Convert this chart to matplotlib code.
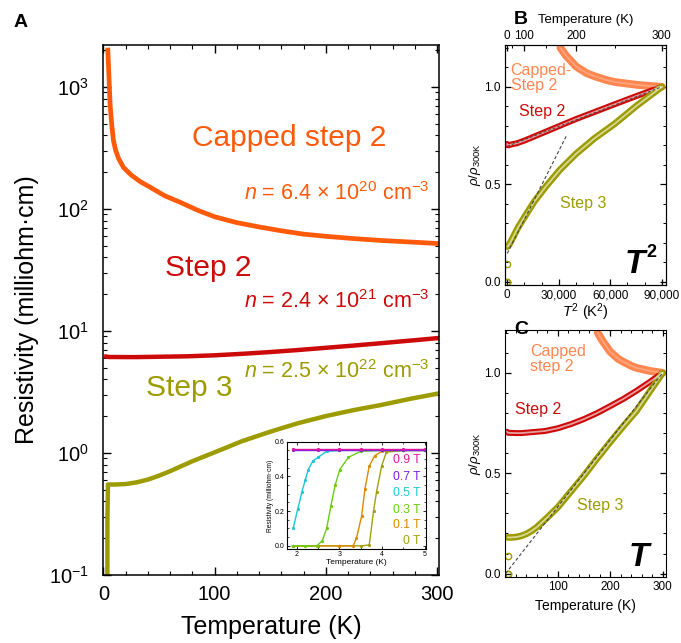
import numpy as np
import matplotlib
matplotlib.use("Agg")
import matplotlib.pyplot as plt
from matplotlib.ticker import MultipleLocator, FixedLocator, LogLocator, NullFormatter, StrMethodFormatter

plt.rcParams['font.family'] = ['Liberation Sans', 'DejaVu Sans']
plt.rcParams['mathtext.fontset'] = 'custom'
plt.rcParams['mathtext.rm'] = 'Liberation Sans'
plt.rcParams['mathtext.it'] = 'Liberation Sans:italic'
plt.rcParams['mathtext.bf'] = 'Liberation Sans:bold'
plt.rcParams['xtick.direction'] = 'in'
plt.rcParams['ytick.direction'] = 'in'

# --- panel A data (resistivity, milliohm cm) ---
T_capped = [3.9, 5, 6, 7.5, 9, 11, 13.6, 18, 25, 33, 41, 55, 70, 85, 100, 120, 140, 160, 180, 200, 225, 250, 275, 300]
rho_capped = [2000, 1150, 700, 480, 360, 300, 258, 218, 189, 167, 152, 128, 112, 97, 86, 77, 71, 66, 62, 59.5, 57, 55, 53.5, 52]

T_step2 = [2.5, 5, 10, 20, 30, 50, 75, 100, 125, 150, 175, 200, 225, 250, 275, 300]
rho_step2 = [6.15, 6.1, 6.1, 6.09, 6.09, 6.13, 6.18, 6.3, 6.48, 6.7, 6.96, 7.26, 7.57, 7.92, 8.3, 8.7]

T_step3 = [2.0, 3.0, 3.5, 4.0, 10, 20, 30, 40, 50, 60, 80, 100, 125, 150, 175, 200, 225, 250, 275, 300]
rho_step3 = [0.0, 0.0, 0.27, 0.55, 0.55, 0.555, 0.573, 0.604, 0.65, 0.708, 0.854, 1.01, 1.25, 1.49, 1.75, 2.0, 2.24, 2.47, 2.76, 3.05]
n_sc = 3  # points below / inside the superconducting transition

# capped step 2 as shown in the normalized panels (T >= 175 K only)
T_capped_norm = [176, 185, 200, 215, 225, 240, 250, 275, 300]
capped_norm = [1.2, 1.16, 1.105, 1.07, 1.055, 1.035, 1.025, 1.01, 1.0]

# dashed guide lines
fitB3_x = [0, 34300]
fitB3_y = [0.145, 0.746]
fitB2_x = [0, 90000]
fitB2_y = [0.695, 1.0]
fitC_x = [0, 300]
fitC_y = [0.0, 1.0]

# inset: field dependence of step 3 transition
inset_fields = ['0.9 T', '0.7 T', '0.5 T', '0.3 T', '0.1 T', '0 T']
inset_T = [
    [1.9, 2.5, 3.0, 3.5, 4.0, 4.5, 5.0],
    [1.9, 2.5, 3.0, 3.5, 4.0, 4.5, 5.0],
    [1.92, 2.02, 2.12, 2.2, 2.27, 2.38, 2.5, 2.7, 3.0, 3.5, 4.0, 4.5, 5.0],
    [1.9, 2.2, 2.47, 2.6, 2.7, 2.8, 2.9, 3.01, 3.21, 3.5, 4.0, 4.5, 5.0],
    [1.9, 2.5, 3.0, 3.32, 3.4, 3.52, 3.6, 3.7, 3.83, 4.0, 4.5, 5.0],
    [1.9, 2.5, 3.0, 3.5, 3.7, 3.8, 3.87, 3.99, 4.1, 4.5, 5.0],
]
inset_rho = [
    [0.556, 0.556, 0.556, 0.556, 0.556, 0.556, 0.556],
    [0.553, 0.553, 0.553, 0.553, 0.553, 0.553, 0.553],
    [0.105, 0.21, 0.31, 0.38, 0.44, 0.49, 0.51, 0.545, 0.55, 0.55, 0.55, 0.55, 0.55],
    [0.0, 0.0, 0.0, 0.03, 0.10, 0.23, 0.35, 0.44, 0.51, 0.545, 0.55, 0.55, 0.55],
    [0.0, 0.0, 0.0, 0.0, 0.044, 0.17, 0.33, 0.46, 0.52, 0.545, 0.55, 0.55],
    [0.0, 0.0, 0.0, 0.0, 0.005, 0.2, 0.31, 0.46, 0.54, 0.55, 0.55],
]
inset_colors = ['#E0159F', '#7B1FE0', '#1CC8D4', '#6CCB12', '#D98A00', '#A0A010']

C_CAPPED = '#FF5A0A'
C_CAPPED_N = '#FF8650'
C_STEP2 = '#CC0A0A'
C_STEP3 = '#9C9C00'

fig = plt.figure(figsize=(6.81, 6.43), dpi=100)

# ---------------- panel A ----------------
ax = fig.add_axes([0.151, 0.106, 0.494, 0.824])
ax.plot(T_capped, rho_capped, color=C_CAPPED, lw=3.4)
ax.plot(T_step2, rho_step2, color=C_STEP2, lw=3.2)
ax.plot(T_step3, rho_step3, color=C_STEP3, lw=3.2)
ax.set_yscale('log')
ax.set_ylim(0.1, 2200)
ax.set_xlim(-0.6, 302)
ax.xaxis.set_major_locator(MultipleLocator(100))
ax.xaxis.set_minor_locator(MultipleLocator(20))
ax.yaxis.set_major_locator(LogLocator(base=10, numticks=10))
ax.yaxis.set_minor_locator(LogLocator(base=10, subs=np.arange(2, 10), numticks=20))
ax.yaxis.set_minor_formatter(NullFormatter())
ax.tick_params(which='both', top=True, right=True, labelsize=14.5)
ax.tick_params(which='major', length=6, width=1)
ax.tick_params(which='minor', length=3, width=0.8)
ax.tick_params(axis='x', pad=7)
ax.tick_params(axis='y', pad=10)
for s in ax.spines.values():
    s.set_linewidth(1.1)
ax.set_xlabel('Temperature (K)', fontsize=18, labelpad=8)
ax.set_ylabel('Resistivity (milliohm·cm)', fontsize=18, labelpad=7)

ax.text(167, 377, 'Capped step 2', color=C_CAPPED, fontsize=21.5, ha='center', va='center')
ax.text(293, 133, r'$n$ = 6.4 × 10$^{20}$ cm$^{-3}$', color=C_CAPPED, fontsize=15.5, ha='right', va='center')
ax.text(94, 32.8, 'Step 2', color=C_STEP2, fontsize=21.5, ha='center', va='center')
ax.text(293, 17.3, r'$n$ = 2.4 × 10$^{21}$ cm$^{-3}$', color=C_STEP2, fontsize=15.5, ha='right', va='center')
ax.text(77, 3.4, 'Step 3', color=C_STEP3, fontsize=21.5, ha='center', va='center')
ax.text(293, 4.6, r'$n$ = 2.5 × 10$^{22}$ cm$^{-3}$', color=C_STEP3, fontsize=15.5, ha='right', va='center')
fig.text(0.030, 0.965, 'A', fontsize=14, fontweight='bold', ha='center', va='center')

# ---------------- inset ----------------
axi = fig.add_axes([0.4214, 0.1457, 0.2041, 0.1673])
for Ti, ri, ci in list(zip(inset_T, inset_rho, inset_colors))[::-1]:
    axi.plot(Ti, ri, color=ci, lw=1.0, marker='o', ms=1.3)
axi.set_xlim(1.77, 5.03)
axi.set_ylim(-0.02, 0.6)
axi.xaxis.set_major_locator(MultipleLocator(1))
axi.xaxis.set_minor_locator(MultipleLocator(0.5))
axi.yaxis.set_major_locator(MultipleLocator(0.2))
axi.yaxis.set_minor_locator(MultipleLocator(0.05))
axi.yaxis.set_major_formatter(StrMethodFormatter('{x:.1f}'))
axi.tick_params(which='both', top=True, right=True, labelsize=5, pad=1.5)
axi.tick_params(which='major', length=2.5, width=0.6)
axi.tick_params(which='minor', length=1.3, width=0.5)
for s in axi.spines.values():
    s.set_linewidth(0.8)
axi.set_xlabel('Temperature (K)', fontsize=6, labelpad=0.5)
axi.set_ylabel('Resistivity (milliohm·cm)', fontsize=4.8, labelpad=1)
leg_y = [0.497, 0.396, 0.303, 0.206, 0.12, 0.029]
for lab, ly, ci in zip(inset_fields, leg_y, inset_colors):
    axi.text(4.9, ly, lab, color=ci, fontsize=8.7, ha='right', va='center')


def band(a, x, y, color, width, inner_alpha):
    a.plot(x, y, color=color, lw=width, solid_capstyle='round', zorder=2)
    a.plot(x, y, color='white', lw=1.3, alpha=inner_alpha, solid_capstyle='round', zorder=2.1)


norm2 = np.array(rho_step2) / rho_step2[-1]
norm3 = np.array(rho_step3) / rho_step3[-1]
T2a = np.array(T_step2)
T3a = np.array(T_step3)
Tca = np.array(T_capped_norm)

# ---------------- panel B ----------------
axB = fig.add_axes([0.7416, 0.5568, 0.236, 0.373])
band(axB, Tca ** 2, capped_norm, C_CAPPED_N, 5.6, 0.25)
band(axB, T2a ** 2, norm2, C_STEP2, 4.3, 0.6)
band(axB, T3a[n_sc:] ** 2, norm3[n_sc:], C_STEP3, 4.8, 0.6)
axB.plot(T3a[:n_sc] ** 2, norm3[:n_sc], ls='none', marker='o', ms=4.5, mfc='none', mec=C_STEP3, mew=1)
axB.plot(fitB3_x, fitB3_y, color='#444444', lw=0.8, ls=(0, (3, 2)), zorder=3)
axB.plot(fitB2_x, fitB2_y, color='#444444', lw=0.7, ls=(0, (3, 2)), zorder=3)
axB.set_xlim(-1300, 92300)
axB.set_ylim(-0.017, 1.214)
axB.xaxis.set_major_locator(MultipleLocator(30000))
axB.xaxis.set_minor_locator(MultipleLocator(10000))
axB.xaxis.set_major_formatter(StrMethodFormatter('{x:,.0f}'))
axB.yaxis.set_major_locator(MultipleLocator(0.5))
axB.yaxis.set_minor_locator(MultipleLocator(0.1))
axB.yaxis.set_major_formatter(StrMethodFormatter('{x:.1f}'))
axB.tick_params(which='both', right=True, labelsize=8.5, pad=3)
axB.tick_params(which='major', length=4, width=0.9)
axB.tick_params(which='minor', length=2.2, width=0.7)
axB.set_xlabel(r'$T^{2}$ (K$^{2}$)', fontsize=10.5, labelpad=0)
axB.set_ylabel(r'$\rho/\rho_{\mathrm{300K}}$', fontsize=9.5, labelpad=1)
axBt = axB.twiny()
axBt.set_xlim(axB.get_xlim())
axBt.xaxis.set_major_locator(FixedLocator([0, 10000, 40000, 90000]))
axBt.set_xticklabels(['0', '100', '200', '300'])
axBt.xaxis.set_minor_locator(FixedLocator([2500, 22500, 62500]))
axBt.tick_params(which='both', labelsize=8.5, pad=2)
axBt.tick_params(which='major', length=4, width=0.9)
axBt.tick_params(which='minor', length=2.2, width=0.7)
axBt.set_xlabel('Temperature (K)', fontsize=9.5, labelpad=5)
axB.text(1980, 1.045, 'Capped-\nStep 2', color=C_CAPPED_N, fontsize=11.5, ha='left', va='center', linespacing=1.0)
axB.text(20500, 0.875, 'Step 2', color=C_STEP2, fontsize=11.5, ha='center', va='center')
axB.text(44100, 0.403, 'Step 3', color=C_STEP3, fontsize=11.5, ha='center', va='center')
axB.text(80500, 0.09, 'T', fontsize=24, fontweight='bold', style='italic', ha='right', va='center')
axB.text(81000, 0.15, '2', fontsize=13, fontweight='bold', ha='left', va='center')
fig.text(0.765, 0.97, 'B', fontsize=14, fontweight='bold', ha='center', va='center')

# ---------------- panel C ----------------
axC = fig.add_axes([0.7416, 0.1026, 0.236, 0.384])
band(axC, Tca, capped_norm, C_CAPPED_N, 5.6, 0.25)
band(axC, T2a, norm2, C_STEP2, 4.3, 0.6)
band(axC, T3a[n_sc:], norm3[n_sc:], C_STEP3, 4.8, 0.6)
axC.plot(T3a[:n_sc] + 2, norm3[:n_sc], ls='none', marker='o', ms=4.5, mfc='none', mec=C_STEP3, mew=1)
axC.plot(fitC_x, fitC_y, color='#444444', lw=0.8, ls=(0, (3, 2)), zorder=3)
axC.set_xlim(-1, 306)
axC.set_ylim(-0.017, 1.213)
axC.xaxis.set_major_locator(FixedLocator([100, 200, 300]))
axC.xaxis.set_minor_locator(MultipleLocator(20))
axC.yaxis.set_major_locator(MultipleLocator(0.5))
axC.yaxis.set_minor_locator(MultipleLocator(0.1))
axC.yaxis.set_major_formatter(StrMethodFormatter('{x:.1f}'))
axC.tick_params(which='both', top=True, right=True, labelsize=8.5, pad=3)
axC.tick_params(which='major', length=4, width=0.9)
axC.tick_params(which='minor', length=2.2, width=0.7)
axC.set_xlabel('Temperature (K)', fontsize=10, labelpad=4)
axC.set_ylabel(r'$\rho/\rho_{\mathrm{300K}}$', fontsize=9.5, labelpad=1)
axC.text(47, 1.07, 'Capped\nstep 2', color=C_CAPPED_N, fontsize=11.5, ha='left', va='center', linespacing=1.0)
axC.text(63, 0.82, 'Step 2', color=C_STEP2, fontsize=11.5, ha='center', va='center')
axC.text(181, 0.34, 'Step 3', color=C_STEP3, fontsize=11.5, ha='center', va='center')
axC.text(254, 0.08, 'T', fontsize=24, fontweight='bold', style='italic', ha='center', va='center')
fig.text(0.765, 0.488, 'C', fontsize=14, fontweight='bold', ha='center', va='center')

fig.savefig('out.png', dpi=100)
